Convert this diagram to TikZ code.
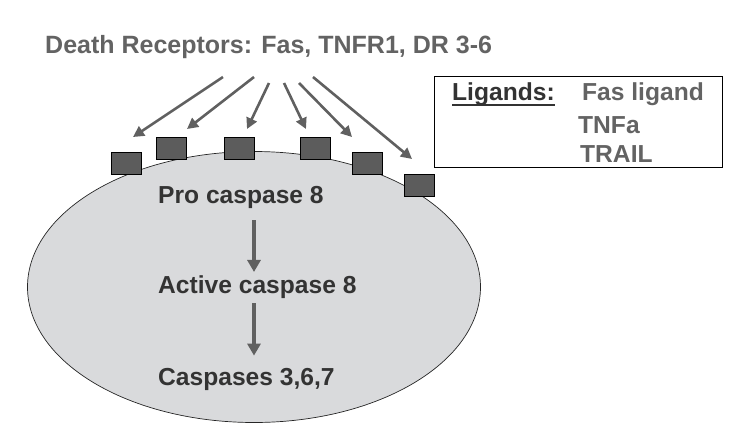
\documentclass[tikz,border=0pt]{standalone}
\usepackage{fontspec}
\setmainfont{Liberation Sans}
\usetikzlibrary{shapes.geometric,arrows.meta}
\definecolor{titlegray}{HTML}{636363}
\definecolor{txtdark}{HTML}{333333}
\definecolor{arrgray}{HTML}{606060}
\definecolor{rcpgray}{HTML}{5C5C5C}
\definecolor{cellgray}{HTML}{D9DADC}

\begin{document}
\begin{tikzpicture}[x=1pt,y=-1pt,
    lbl/.style={font=\fontsize{24.6}{28}\selectfont\bfseries,inner sep=0pt,anchor=base west},
    rcp/.style={draw=black,line width=0.8pt,fill=rcpgray,minimum width=30pt,
      minimum height=22pt,inner sep=0pt},
    bind/.style={draw=arrgray,line width=2.6pt,-{Triangle[length=11pt,width=11pt]}},
    flow/.style={draw=arrgray,line width=4pt,-{Triangle[length=12pt,width=13pt]}}]
 \useasboundingbox (0,0) rectangle (737,440);
 \node[ellipse,draw=black!85,line width=0.7pt,fill=cellgray,minimum width=453pt,
   minimum height=271pt,inner sep=0pt] (cell) at (254,287) {};
 \node[lbl,text=titlegray,font=\fontsize{25}{30}\selectfont\bfseries] (title) at (45,53)
  {Death Receptors: Fas, TNFR1, DR 3-6};
 % receptors on the membrane
 \foreach \i/\x/\y in {1/126/163,2/171/148,3/239/148,4/315/148,5/367/163,6/419/185}
  {\node[rcp] (r\i) at (\x,\y) {};}
 \foreach \i/\sx/\sy/\ex/\ey in {1/223/77/133/137,2/254/77/187/129,3/269/83/247/129,
   4/284/83/306/129,5/299/83/352/137,6/313/77/412/159}
  {\coordinate (s\i) at (\sx,\sy); \coordinate (e\i) at (\ex,\ey);
   \draw[bind] (s\i) -- (e\i);}
 % cascade
 \node[lbl,text=txtdark] (pro) at (158,203) {Pro caspase 8};
 \node[lbl,text=txtdark] (act) at (158,293) {Active caspase 8};
 \node[lbl,text=txtdark] (csp) at (158,385) {Caspases 3,6,7};
 \draw[flow,shorten <=12pt,shorten >=3pt] (cell.center |- pro.south) -- (cell.center |- act.north);
 \draw[flow,shorten <=5pt,shorten >=12pt] (cell.center |- act.south) -- (cell.center |- csp.north);
 % ligands
 \node[draw,line width=1pt,minimum width=288pt,minimum height=91pt,inner sep=0pt]
  (ligbox) at (578,121.5) {};
 \node[lbl,text=txtdark] (ligs) at (452,100) {Ligands:};
 \draw[txtdark,line width=2pt] ([yshift=-5pt]ligs.base west) -- ([yshift=-5pt]ligs.base east);
 \node[lbl,text=titlegray] (fasl) at (582,100) {Fas ligand};
 \node[lbl,text=titlegray] (tnfa) at (578,133) {TNFa};
 \node[lbl,text=titlegray] (trail) at (580,162) {TRAIL};
\end{tikzpicture}
\end{document}
